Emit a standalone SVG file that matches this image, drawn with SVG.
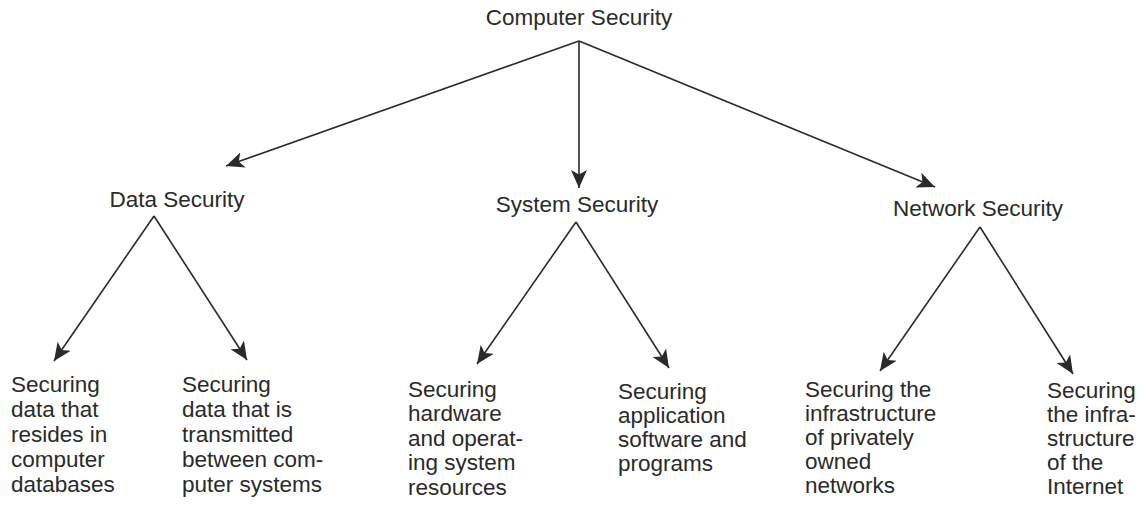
<svg xmlns="http://www.w3.org/2000/svg" width="1142" height="508" viewBox="0 0 1142 508">
<style>
text{font-family:"Liberation Sans",Arial,sans-serif;font-size:22.5px;fill:#2a2a2a}
.c{text-anchor:middle}
.ln{stroke:#2a2a2a;stroke-width:1.6;fill:none;marker-end:url(#ah)}
</style>
<defs>
<marker id="ah" markerUnits="userSpaceOnUse" markerWidth="20" markerHeight="18" refX="18" refY="8.5" orient="auto">
<path d="M0,0.5 L18,8.5 L0,16.5 L4.5,8.5 Z" fill="#2a2a2a"/>
</marker>
</defs>
<rect width="1142" height="508" fill="#fff"/>
<g id="connectors">
<line class="ln" x1="579" y1="41" x2="226" y2="166"/>
<line class="ln" x1="579" y1="41" x2="579" y2="188"/>
<line class="ln" x1="579" y1="41" x2="935" y2="187"/>
<line class="ln" x1="154" y1="216" x2="54" y2="361"/>
<line class="ln" x1="154" y1="216" x2="247" y2="360"/>
<line class="ln" x1="576" y1="222" x2="477" y2="364"/>
<line class="ln" x1="576" y1="222" x2="669" y2="368"/>
<line class="ln" x1="980" y1="227" x2="880" y2="371"/>
<line class="ln" x1="980" y1="227" x2="1073" y2="374"/>
</g>
<g id="computer-security"><text class="c" x="579" y="25">Computer Security</text></g>
<g id="data-security"><text class="c" x="177" y="207">Data Security</text></g>
<g id="system-security"><text class="c" x="577" y="212">System Security</text></g>
<g id="network-security"><text class="c" x="978" y="216">Network Security</text></g>
<g id="leaf-data-stored"><text x="11" y="392">Securing<tspan x="11" y="417">data that</tspan><tspan x="11" y="442">resides in</tspan><tspan x="11" y="467">computer</tspan><tspan x="11" y="492">databases</tspan></text></g>
<g id="leaf-data-transmitted"><text x="182" y="392">Securing<tspan x="182" y="417">data that is</tspan><tspan x="182" y="442">transmitted</tspan><tspan x="182" y="467">between com-</tspan><tspan x="182" y="492">puter systems</tspan></text></g>
<g id="leaf-system-hardware"><text x="408" y="397">Securing<tspan x="408" y="421">hardware</tspan><tspan x="408" y="446">and operat-</tspan><tspan x="408" y="470">ing system</tspan><tspan x="408" y="495">resources</tspan></text></g>
<g id="leaf-system-software"><text x="618" y="399">Securing<tspan x="618" y="423">application</tspan><tspan x="618" y="447">software and</tspan><tspan x="618" y="471">programs</tspan></text></g>
<g id="leaf-network-private"><text x="805" y="397">Securing the<tspan x="805" y="421">infrastructure</tspan><tspan x="805" y="445">of privately</tspan><tspan x="805" y="469">owned</tspan><tspan x="805" y="493">networks</tspan></text></g>
<g id="leaf-network-internet"><text x="1047" y="398">Securing<tspan x="1047" y="422">the infra-</tspan><tspan x="1047" y="446">structure</tspan><tspan x="1047" y="470">of the</tspan><tspan x="1047" y="494">Internet</tspan></text></g>
</svg>
